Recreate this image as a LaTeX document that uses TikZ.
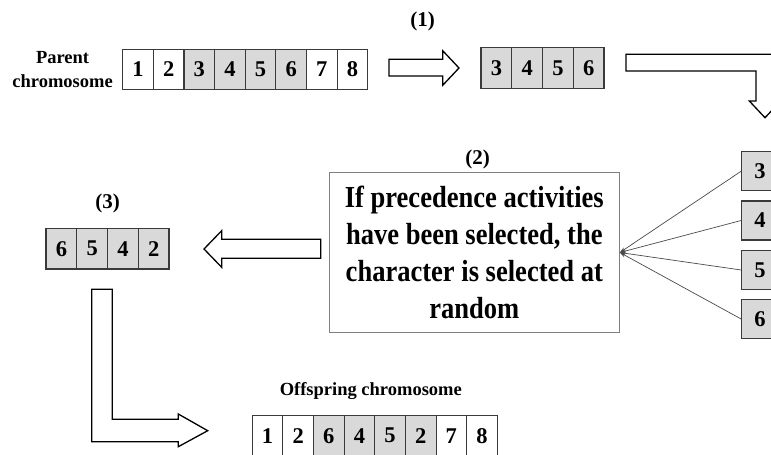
\documentclass[tikz,border=0pt]{standalone}
\usepackage{fontspec}
\setmainfont{Liberation Serif}
\newfontfamily\boxfont[FakeStretch=0.87]{Liberation Serif}
\usetikzlibrary{arrows.meta}

\definecolor{shade}{HTML}{D9D9D9}
\definecolor{cellline}{HTML}{3A3A3A}
\definecolor{boxline}{HTML}{808080}
\definecolor{pointer}{HTML}{4A4A4A}

\begin{document}
\begin{tikzpicture}[x=1pt,y=-1pt,
  cell/.style={draw=cellline, line width=1.1pt, minimum width=#1, minimum height=40.5pt,
    inner sep=0pt, font=\fontsize{22.5}{22.5}\selectfont\bfseries},
  cell/.default=30.7pt,
  label/.style={inner sep=0pt, font=\fontsize{18.5}{23.3}\selectfont\bfseries, align=center},
  step label/.style={inner sep=0pt, font=\fontsize{21}{21}\selectfont\bfseries},
  textbox/.style={draw=boxline, line width=1pt, align=center, inner sep=0pt,
    minimum width=290pt, minimum height=160.7pt,
    font=\boxfont\fontsize{30.5}{37}\selectfont\bfseries},
  blockarrow/.style={draw=black, line width=1.3pt, fill=white, line join=miter},
  pointer arrow/.style={draw=pointer, line width=0.7pt, -{Stealth[length=6pt,width=4pt]}}
]
\useasboundingbox (0,0) rectangle (771,455);
\clip (0,0) rectangle (771,455);

% parent chromosome
\node[label] (parentlbl) at (62.6,69.5) {Parent\\chromosome};
\foreach \d/\f [count=\i] in {1/white,2/white,3/shade,4/shade,5/shade,6/shade,7/white,8/white}
  \node[cell=30.625pt, fill=\f] (p\i) at ({122.7+(\i-0.5)*30.625},69.3) {\d};

% step (1): the selected segment
\node[step label] (lbl1) at (422.5,21) {(1)};
\draw[blockarrow] (389,59.3) -- (442.7,59.3) -- (442.7,50.7) -- (459,68)
  -- (442.7,85.3) -- (442.7,76) -- (389,76) -- cycle;
\foreach \d [count=\i] in {3,4,5,6}
  \node[cell=30.75pt, fill=shade] (s\i) at ({481+(\i-0.5)*30.75},67.8) {\d};

% bent arrow down to the right column
\draw[blockarrow] (626,54.3) -- (774,54.3) -- (774,101) -- (780.7,101) -- (765,117.7)
  -- (749.3,101) -- (756,101) -- (756,71) -- (626,71) -- cycle;

% right column of genes
\foreach \d/\y [count=\i] in {3/171.2,4/220.5,5/270,6/319}
  \node[cell=36.6pt, fill=shade, minimum height=39pt] (r\i) at (760,\y) {\d};

% step (2): the selection rule
\node[step label] (lbl2) at (477.5,159) {(2)};
\node[textbox] (t) at (474.3,252.5) {If precedence activities\\have been selected, the\\character is selected at\\random};
\foreach \i in {1,...,4}
  \draw[pointer arrow] (r\i.west) -- (t.east);

% step (3): the reordered segment
\draw[blockarrow] (320.7,239.3) -- (221.7,239.3) -- (221.7,230.7) -- (204,249)
  -- (221.7,267.3) -- (221.7,258.3) -- (320.7,258.3) -- cycle;
\node[step label] (lbl3) at (107.5,203.3) {(3)};
\foreach \d [count=\i] in {6,5,4,2}
  \node[cell=30.75pt, fill=shade] (q\i) at ({46+(\i-0.5)*30.75},248.7) {\d};

% L-shaped arrow to the offspring
\draw[blockarrow] (91.7,289.3) -- (112.3,289.3) -- (112.3,419.3) -- (178.3,419.3)
  -- (178.3,414) -- (207.7,430.7) -- (178.3,446.7) -- (178.3,441.7) -- (91.7,441.7) -- cycle;

% offspring chromosome
\node[label, anchor=base] (offlbl) at (370.8,395) {Offspring chromosome};
\foreach \d/\f [count=\i] in {1/white,2/white,6/shade,4/shade,5/shade,2/shade,7/white,8/white}
  \node[cell=30.625pt, fill=\f] (o\i) at ({252.3+(\i-0.5)*30.625},435.7) {\d};
\end{tikzpicture}
\end{document}
